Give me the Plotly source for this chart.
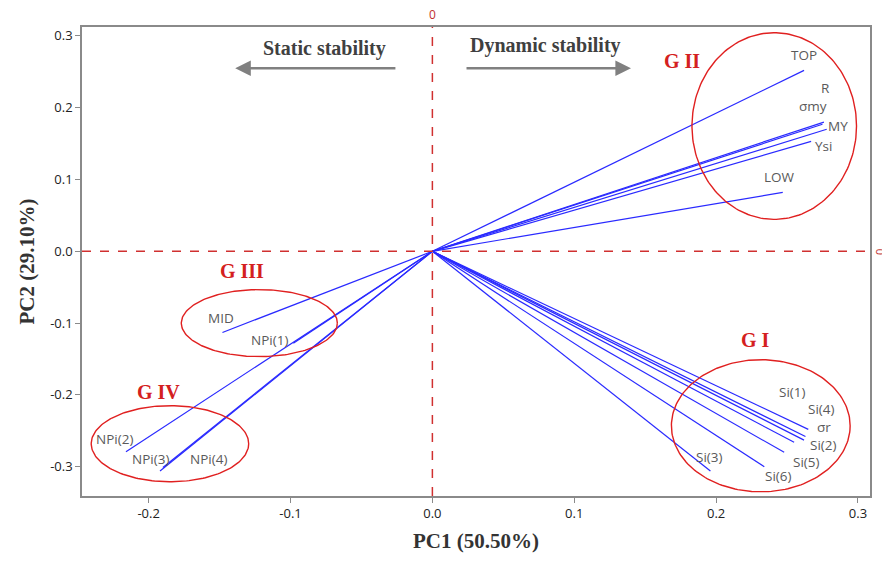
import plotly.graph_objects as go
import numpy as np

# Variable loadings (PC1, PC2)
var_names = ["TOP", "R", "σmy", "MY", "Ysi", "LOW",
             "Si(1)", "Si(4)", "σr", "Si(2)", "Si(5)", "Si(6)", "Si(3)",
             "MID", "NPi(1)", "NPi(2)", "NPi(3)", "NPi(4)"]
pc1 = [0.262, 0.276, 0.275, 0.278, 0.267, 0.247,
       0.265, 0.263, 0.262, 0.255, 0.248, 0.234, 0.196,
       -0.148, -0.098, -0.216, -0.192, -0.190]
pc2 = [0.252, 0.180, 0.177, 0.170, 0.153, 0.082,
       -0.248, -0.258, -0.263, -0.266, -0.280, -0.300, -0.306,
       -0.113, -0.128, -0.279, -0.306, -0.301]
# label positions
lab_x = [0.262, 0.277, 0.268, 0.286, 0.276, 0.245,
         0.254, 0.274, 0.276, 0.276, 0.264, 0.244, 0.195,
         -0.149, -0.115, -0.224, -0.199, -0.158]
lab_y = [0.273, 0.228, 0.203, 0.174, 0.146, 0.103,
         -0.196, -0.220, -0.244, -0.270, -0.294, -0.313, -0.287,
         -0.093, -0.123, -0.261, -0.289, -0.289]

# Group ellipses: name, centre x, centre y, radius x, radius y, label x, label y
groups = ["G I", "G II", "G III", "G IV"]
ell_cx = [0.2315, 0.2410, -0.1220, -0.1850]
ell_cy = [-0.2430, 0.1745, -0.1000, -0.2680]
ell_rx = [0.0630, 0.0580, 0.0550, 0.0555]
ell_ry = [0.0920, 0.1300, 0.0467, 0.0530]
grp_lx = [0.228, 0.176, -0.134, -0.193]
grp_ly = [-0.124, 0.265, -0.028, -0.196]

x_ticks = [-0.2, -0.1, 0.0, 0.1, 0.2, 0.3]
y_ticks = [-0.3, -0.2, -0.1, 0.0, 0.1, 0.2, 0.3]

fig = go.Figure()

# vectors
vx, vy = [], []
for a, b in zip(pc1, pc2):
    vx += [0, a, None]
    vy += [0, b, None]
fig.add_trace(go.Scatter(x=vx, y=vy, mode="lines",
                         line=dict(color="#2a2aff", width=1.2),
                         hoverinfo="skip", showlegend=False))

# ellipses
t = np.linspace(0, 2 * np.pi, 200)
for cx, cy, rx, ry in zip(ell_cx, ell_cy, ell_rx, ell_ry):
    fig.add_trace(go.Scatter(x=cx + rx * np.cos(t), y=cy + ry * np.sin(t),
                             mode="lines", line=dict(color="#e02020", width=1.4),
                             hoverinfo="skip", showlegend=False))

annotations = []
for n, x, y in zip(var_names, lab_x, lab_y):
    annotations.append(dict(x=x, y=y, text=n, showarrow=False,
                            font=dict(family="Open Sans, Noto Sans, sans-serif", size=13.5, color="#5a5a5a")))
for g, x, y in zip(groups, grp_lx, grp_ly):
    annotations.append(dict(x=x, y=y, text="<b>" + g + "</b>", showarrow=False,
                            font=dict(family="Liberation Serif, serif", size=20, color="#d42020")))

# stability arrows
annotations.append(dict(x=-0.139, y=0.255, ax=-0.025, ay=0.255, xref="x", yref="y",
                        axref="x", ayref="y", text="", showarrow=True,
                        arrowhead=2, arrowsize=1.2, arrowwidth=2.6, arrowcolor="#808080"))
annotations.append(dict(x=0.140, y=0.255, ax=0.023, ay=0.255, xref="x", yref="y",
                        axref="x", ayref="y", text="", showarrow=True,
                        arrowhead=2, arrowsize=1.2, arrowwidth=2.6, arrowcolor="#808080"))
annotations.append(dict(x=-0.076, y=0.283, text="<b>Static stability</b>", showarrow=False,
                        font=dict(family="Liberation Serif, serif", size=20, color="#404040")))
annotations.append(dict(x=0.080, y=0.286, text="<b>Dynamic stability</b>", showarrow=False,
                        font=dict(family="Liberation Serif, serif", size=20, color="#404040")))
# zero labels
annotations.append(dict(x=0, y=1.0, xref="x", yref="paper", yanchor="bottom", yshift=2,
                        text="0", showarrow=False,
                        font=dict(family="Open Sans, sans-serif", size=12, color="#c03030")))
annotations.append(dict(x=1.0, y=0, xref="paper", yref="y", xanchor="left", xshift=1,
                        text="0", textangle=90, showarrow=False,
                        font=dict(family="Open Sans, sans-serif", size=11, color="#c03030")))

shapes = [
    dict(type="line", xref="x", yref="paper", x0=0, x1=0, y0=0, y1=1,
         line=dict(color="#d03030", width=1.5, dash="dash")),
    dict(type="line", xref="paper", yref="y", x0=0, x1=1, y0=0, y1=0,
         line=dict(color="#d03030", width=1.5, dash="dash")),
]

fig.update_layout(
    width=882, height=561,
    margin=dict(l=82, r=10, t=27, b=65),
    plot_bgcolor="white", paper_bgcolor="white",
    annotations=annotations, shapes=shapes,
    xaxis=dict(range=[-0.247, 0.3085], tickvals=x_ticks,
               ticktext=[f"{v:.1f}" for v in x_ticks],
               showgrid=False, zeroline=False, showline=True, mirror=True,
               linecolor="#8a8a8a", linewidth=1.5, ticks="outside", ticklen=5,
               tickcolor="#8a8a8a",
               tickfont=dict(family="Open Sans, sans-serif", size=13, color="#222"),
               title=dict(text="<b>PC1 (50.50%)</b>", standoff=12,
                          font=dict(family="Liberation Serif, serif", size=21, color="#333"))),
    yaxis=dict(range=[-0.3408, 0.3124], tickvals=y_ticks,
               ticktext=[f"{v:.1f}" for v in y_ticks],
               showgrid=False, zeroline=False, showline=True, mirror=True,
               linecolor="#8a8a8a", linewidth=1.5, ticks="outside", ticklen=5,
               tickcolor="#8a8a8a",
               tickfont=dict(family="Open Sans, sans-serif", size=13, color="#222"),
               title=dict(text="<b>PC2 (29.10%)</b>", standoff=10,
                          font=dict(family="Liberation Serif, serif", size=21, color="#333"))),
)

fig.write_html("out.html")
